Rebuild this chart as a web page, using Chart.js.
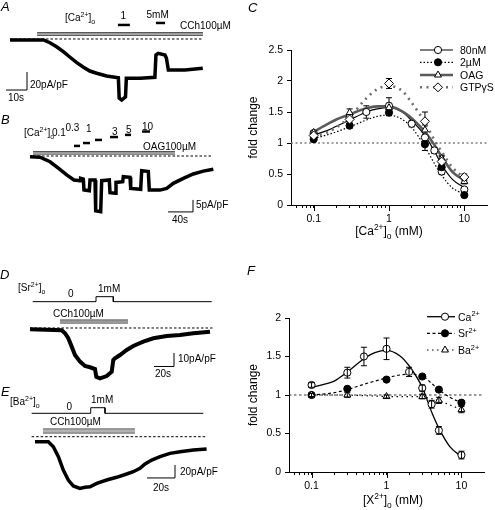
<!DOCTYPE html>
<html>
<head>
<meta charset="utf-8">
<script src="https://cdn.jsdelivr.net/npm/chart.js@4.4.0/dist/chart.umd.min.js"></script>
<style>
body { margin: 0; width: 495px; height: 510px; position: relative; background: #fff; overflow: hidden;
       font-family: "Liberation Sans", Arial, sans-serif; }
canvas { position: absolute; }
.t { position: absolute; font-size: 10px; line-height: 1; white-space: nowrap; color: #000; }
.p { position: absolute; font-size: 13px; line-height: 1; font-style: italic; color: #000; }
sup { font-size: 7px; vertical-align: 4px; line-height: 0; }
sub { font-size: 7px; vertical-align: -3px; line-height: 0; }
</style>
</head>
<body>
<canvas id="cA" width="250" height="110" style="left:0;top:0"></canvas>
<canvas id="cB" width="250" height="125" style="left:0;top:110px"></canvas>
<canvas id="cD" width="250" height="120" style="left:0;top:270px"></canvas>
<canvas id="cE" width="250" height="120" style="left:0;top:390px"></canvas>
<canvas id="cC" width="249" height="215" style="left:246px;top:30px"></canvas>
<canvas id="cF" width="249" height="210" style="left:246px;top:300px"></canvas>

<!-- A -->
<span class="p" style="left:1px;top:0">A</span>
<span class="t" style="left:65px;top:13px">[Ca<sup>2+</sup>]<sub>o</sub></span>
<span class="t" style="left:120.5px;top:11px">1</span>
<span class="t" style="left:146.5px;top:10px">5mM</span>
<span class="t" style="left:180px;top:21px">CCh100µM</span>
<span class="t" style="left:30px;top:80px">20pA/pF</span>
<span class="t" style="left:8px;top:93px">10s</span>
<!-- B -->
<span class="p" style="left:1px;top:113px">B</span>
<span class="t" style="left:24px;top:128px">[Ca<sup>2+</sup>]<sub>o</sub></span>
<span class="t" style="left:52px;top:128px">0.1</span>
<span class="t" style="left:65.5px;top:123px">0.3</span>
<span class="t" style="left:86px;top:123.5px">1</span>
<span class="t" style="left:112px;top:126.5px">3</span>
<span class="t" style="left:126px;top:125px">5</span>
<span class="t" style="left:142px;top:121.5px">10</span>
<span class="t" style="left:143px;top:142px">OAG100µM</span>
<span class="t" style="left:196px;top:200px">5pA/pF</span>
<span class="t" style="left:172px;top:215px">40s</span>
<!-- D -->
<span class="p" style="left:0;top:268px">D</span>
<span class="t" style="left:18px;top:283px">[Sr<sup>2+</sup>]<sub>o</sub></span>
<span class="t" style="left:68px;top:289px">0</span>
<span class="t" style="left:98px;top:283.5px">1mM</span>
<span class="t" style="left:53px;top:308.5px">CCh100µM</span>
<span class="t" style="left:178px;top:353.5px">10pA/pF</span>
<span class="t" style="left:155px;top:368.5px">20s</span>
<!-- E -->
<span class="p" style="left:1px;top:384.5px">E</span>
<span class="t" style="left:10px;top:397px">[Ba<sup>2+</sup>]<sub>o</sub></span>
<span class="t" style="left:66.5px;top:402px">0</span>
<span class="t" style="left:91px;top:395px">1mM</span>
<span class="t" style="left:50px;top:417px">CCh100µM</span>
<span class="t" style="left:180px;top:467px">20pA/pF</span>
<span class="t" style="left:153px;top:482.5px">20s</span>
<!-- C / F letters -->
<span class="p" style="left:248px;top:1px">C</span>
<span class="p" style="left:247px;top:264px">F</span>

<script>
// ---- C: fold change vs [Ca2+]o ----
const conc80 = [0.1, 0.3, 0.5, 1, 2, 3, 4, 5, 10];
const fold80 = [1.16, 1.41, 1.5, 1.6, 1.31, 1.09, 0.88, 0.54, 0.25];
const err80 = [0.03, 0.05, 0.1, 0.13, 0.05, 0.05, 0.05, 0.05, 0.03];
const conc2u = [0.1, 0.3, 1, 3, 5, 10];
const fold2u = [1.06, 1.28, 1.49, 0.98, 0.61, 0.16];
const err2u = [0.03, 0.04, 0.05, 0.1, 0.04, 0.03];
const concOAG = [0.1, 0.3, 1, 3, 5, 10];
const foldOAG = [1.17, 1.49, 1.57, 1.21, 0.75, 0.38];
const errOAG = [0.03, 0.06, 0.07, 0.08, 0.05, 0.04];
const concGTP = [0.1, 0.3, 1, 3, 5, 10];
const foldGTP = [1.12, 1.38, 1.96, 1.35, 0.7, 0.45];
const errGTP = [0.03, 0.06, 0.08, 0.15, 0.08, 0.05];
// fitted curves
const fitConc = [0.1, 0.15, 0.2, 0.3, 0.5, 0.7, 1, 1.5, 2, 3, 4, 5, 7, 10];
const fit80 = [1.13, 1.2, 1.27, 1.37, 1.5, 1.55, 1.57, 1.5, 1.36, 1.12, 0.87, 0.65, 0.41, 0.28];
const fit2u = [1.07, 1.13, 1.18, 1.26, 1.37, 1.43, 1.45, 1.38, 1.25, 0.94, 0.67, 0.48, 0.27, 0.18];
const fitOAG = [1.18, 1.3, 1.38, 1.46, 1.56, 1.59, 1.59, 1.51, 1.4, 1.18, 0.97, 0.78, 0.53, 0.4];
const fitGTP = [1.1, 1.17, 1.25, 1.42, 1.72, 1.87, 1.92, 1.84, 1.65, 1.33, 1.05, 0.86, 0.6, 0.44];

// ---- F: fold change vs [X2+]o ----
const concCa = [0.1, 0.3, 0.5, 1, 2, 3, 4, 5, 10];
const foldCa = [1.13, 1.29, 1.5, 1.6, 1.3, 1.09, 0.88, 0.54, 0.22];
const errCa = [0.03, 0.07, 0.12, 0.14, 0.06, 0.04, 0.05, 0.05, 0.05];
const concSr = [0.1, 0.3, 1, 3, 5, 10];
const foldSr = [1.0, 1.08, 1.2, 1.24, 1.07, 0.9];
const errSr = [0.02, 0.02, 0.02, 0.02, 0.02, 0.03];
const concBa = [0.1, 0.3, 1, 3, 5, 10];
const foldBa = [1.0, 1.0, 0.98, 0.98, 0.93, 0.81];
const errBa = [0.02, 0.03, 0.02, 0.03, 0.04, 0.04];
const fitCa = [1.1, 1.14, 1.18, 1.3, 1.47, 1.55, 1.58, 1.51, 1.38, 1.1, 0.78, 0.57, 0.33, 0.2];
const lineConcSr = [0.1, 0.2, 0.3, 0.5, 1, 1.5, 2, 3, 4, 5, 7, 10];
const lineSr = [1.0, 1.03, 1.07, 1.14, 1.22, 1.26, 1.27, 1.25, 1.15, 1.07, 0.97, 0.9];

const xTicks = [0.06, 0.07, 0.08, 0.09, 0.1, 0.2, 0.3, 0.4, 0.5, 0.6, 0.7, 0.8, 0.9,
                1, 2, 3, 4, 5, 6, 7, 8, 9, 10];
const xLabels = [0.1, 1, 10];

// ---- current traces: time (s), current (pA/pF) ----
const tA = [0, 16, 19, 22.2, 25.4, 28.6, 31.8, 35, 38, 41.3, 46, 51.6, 52, 53.2, 55, 55.4, 62, 69, 69.5, 70.6, 73.8, 74.5, 75.4, 83.3, 91.8];
const iA = [-1.1, -1.1, -4.1, -8.6, -14.1, -20.3, -26.3, -31.4, -35.6, -38.1, -41.1, -43, -65.6, -67.8, -64.4, -43.7, -43.7, -42.6, -17.8, -15.9, -17.8, -21.4, -34.4, -34.4, -32.6];
const caA = [[51.4, 57.1], [69.5, 73.8]];
const cchA = [12.9, 91.9];

const tB = [0, 16, 32, 45.3, 58.7, 70.4, 80, 81.1, 85.3, 86.4, 94.9, 96, 104, 105.1, 113.1, 114.7, 126.9, 128, 136.5, 137.6, 148.3, 149.3, 160, 161.1, 177.1, 178.7, 189.3, 190.9, 208, 218.7, 229.3, 245.3, 261.3, 277.3, 293.3];
const iB = [-0.3, -0.5, -2.4, -5.1, -7.9, -10, -10.3, -9.3, -9.6, -14.2, -14.5, -10, -10, -22.8, -23.2, -10.3, -10, -15.3, -15.5, -11, -10.7, -8.6, -8.9, -13.5, -13.9, -6.1, -6.5, -14.2, -14.2, -13.5, -11.4, -9.3, -7.5, -6.3, -5.5];
const caB = [[70.4, 80], [84.8, 96], [104, 115.2], [128, 140.8], [152, 161.6], [179.2, 192]];
const oagB = [4.8, 232];

const tD = [0, 31.7, 35, 38.3, 41.7, 45, 50, 55, 60, 65, 66.3, 70, 76.7, 81.7, 83.3, 85, 90, 96.7, 103.3, 113.3, 123.3, 136.7, 150, 163.3, 180];
const iD = [-1, -1.7, -3.9, -7.6, -13.8, -20, -24.9, -28.1, -29.1, -30.4, -36.1, -37.3, -35.6, -32.4, -23.7, -22.5, -20, -16.3, -13.3, -10.1, -7.6, -5.9, -5.2, -3.9, -2.7];
const srD = [66, 83.3];
const cchD = [30, 98];

const tE = [0, 9.5, 13.1, 16.7, 20.2, 23.8, 27.4, 32.1, 35.7, 39.3, 44.1, 51.2, 58.3, 65.5, 70.2, 75, 78.6, 83.4, 89.3, 96.4, 103.6, 113.1, 122.6];
const iE = [-7.7, -7.7, -15.4, -30.8, -51.3, -66.7, -75.9, -79.5, -77.9, -77, -71.8, -66.7, -62.5, -57.4, -53.9, -48.7, -42, -35.9, -30.8, -25.6, -23.1, -20.5, -19];
const baE = [39.8, 50];
const cchE = [5.7, 71.4];

const fam = '"Liberation Sans", Arial, sans-serif';

function pts(xs, ys) { return xs.map((x, i) => ({ x: x, y: ys[i] })); }

function line(xs, ys, color, width, dash) {
    return { data: pts(xs, ys), showLine: true, borderColor: color, borderWidth: width,
             borderDash: dash || [], pointRadius: 0, clip: false, tension: 0 };
}
function hbar(t, y, color, width) { return line(t, [y, y], color, width); }
function drugBar(t, y1, y2) {
    return [hbar(t, y1, '#333', 1), hbar(t, (y1 + y2) / 2, '#999', 1.3), hbar(t, y2, '#333', 1)];
}
function stepLine(t0, t1, on, base, up) {
    return line([t0, on[0], on[0], on[1], on[1], t1], [base, base, up, up, base, base], '#000', 1);
}
function scaleBar(t, i, dt, di) {
    return line([t - dt, t, t], [i, i, i + di], '#000', 1);
}

function traceChart(id, xr, yr, datasets) {
    return new Chart(document.getElementById(id), {
        type: 'scatter',
        data: { datasets: datasets },
        options: {
            responsive: false, animation: false, events: [],
            layout: { padding: 0 },
            plugins: { legend: { display: false }, tooltip: { enabled: false } },
            scales: {
                x: { type: 'linear', display: false, min: xr[0], max: xr[1] },
                y: { type: 'linear', display: false, min: yr[0], max: yr[1] }
            }
        }
    });
}

// A
traceChart('cA', [-4.76, 114.29], [-78.89, 43.33], [
    line(tA, iA, '#000', 3.5),
    line([0, 91.9], [0, 0], '#000', 1, [2.5, 2]),
    ...caA.map((b, k) => hbar(b, [15.6, 17.8][k], '#000', 2.5)),
    ...drugBar(cchA, 7.0, 4.1),
    scaleBar(8.1, -56.7, 10, 20)
]);
// B
traceChart('cB', [-48, 352], [-32.92, 19.17], [
    line(tB, iB, '#000', 3.5),
    line([4.8, 292.8], [0, 0], '#000', 1, [2.5, 2]),
    ...caB.map((b, k) => hbar(b, [4.2, 5.4, 6.7, 7.9, 8.8, 10.2][k], '#000', 2.5)),
    ...drugBar(oagB, 1.8, 0.8),
    scaleBar(260.8, -23.3, 40, 5)
]);
// D
traceChart('cD', [-30, 220], [-45.93, 42.96], [
    line(tD, iD, '#000', 4),
    line([0, 183], [0, 0], '#000', 1, [2.5, 2]),
    stepLine(2.7, 181.7, srD, 19.5, 23.2),
    ...drugBar(cchD, 5.9, 3.7),
    scaleBar(144, -28.5, 20, 10)
]);
// E
traceChart('cE', [-25, 153.57], [-112.8, 71.85], [
    line(tE, iE, '#000', 3.5),
    line([-2.4, 122.9], [0, 0], '#000', 1, [2.5, 2]),
    stepLine(-2.4, 120.2, baE, 36, 44.6),
    ...drugBar(cchE, 11.8, 5.7),
    scaleBar(100, -63.5, 20, 20)
]);

// ---- dose-response panels ----
function markers(xs, ys, errs, style, fill, r) {
    return { data: pts(xs, ys), errors: errs, showLine: false, pointStyle: style, pointRadius: r,
             pointBackgroundColor: fill, pointBorderColor: '#000', pointBorderWidth: 1, order: 1 };
}
function curve(xs, ys, color, width, dash, smooth) {
    const d = line(xs, ys, color, width, dash);
    if (smooth) d.cubicInterpolationMode = 'monotone';
    d.order = 5;
    return d;
}

function richText(ctx, parts, x, y, size, center) {
    const f = p => (p[1] ? size * 0.7 : size) + 'px ' + fam;
    let w = 0;
    parts.forEach(p => { ctx.font = f(p); w += ctx.measureText(p[0]).width; });
    let cx = center ? x - w / 2 : x;
    ctx.fillStyle = '#000';
    ctx.textAlign = 'left';
    ctx.textBaseline = 'alphabetic';
    parts.forEach(p => {
        ctx.font = f(p);
        const dy = p[1] === 1 ? -size * 0.42 : p[1] === -1 ? size * 0.3 : 0;
        ctx.fillText(p[0], cx, y + dy);
        cx += ctx.measureText(p[0]).width;
    });
}

function errBars(onTop) {
    const draw = chart => {
        const ctx = chart.ctx, x = chart.scales.x, y = chart.scales.y;
        ctx.save();
        ctx.strokeStyle = '#000';
        ctx.lineWidth = 1;
        chart.data.datasets.forEach(ds => {
            if (!ds.errors) return;
            ds.data.forEach((p, i) => {
                const e = ds.errors[i];
                const px = x.getPixelForValue(p.x);
                const yt = y.getPixelForValue(p.y + e), yb = y.getPixelForValue(p.y - e);
                ctx.beginPath();
                ctx.moveTo(px, yt); ctx.lineTo(px, yb);
                ctx.moveTo(px - 3, yt); ctx.lineTo(px + 3, yt);
                ctx.moveTo(px - 3, yb); ctx.lineTo(px + 3, yb);
                ctx.stroke();
            });
        });
        ctx.restore();
    };
    return onTop ? { id: 'errbars', afterDatasetsDraw: draw } : { id: 'errbars', beforeDatasetsDraw: draw };
}

function deco(cfg) {
    return {
        id: 'deco',
        afterDraw(chart) {
            const ctx = chart.ctx, xs = chart.scales.x, b = chart.chartArea.bottom;
            ctx.save();
            ctx.strokeStyle = '#000';
            ctx.lineWidth = 1;
            xLabels.forEach(v => {
                const px = Math.round(xs.getPixelForValue(v)) + 0.5;
                ctx.beginPath(); ctx.moveTo(px, b); ctx.lineTo(px, b + 6); ctx.stroke();
            });
            cfg.legend.forEach((it, k) => {
                const y = cfg.legY[k];
                ctx.save();
                ctx.strokeStyle = it.line.borderColor;
                ctx.lineWidth = it.line.borderWidth;
                ctx.setLineDash(it.line.borderDash);
                ctx.beginPath(); ctx.moveTo(cfg.legX[0], y); ctx.lineTo(cfg.legX[1], y); ctx.stroke();
                ctx.setLineDash([]);
                ctx.fillStyle = it.pts.pointBackgroundColor;
                ctx.strokeStyle = '#000';
                ctx.lineWidth = 1;
                Chart.helpers.drawPoint(ctx, { pointStyle: it.pts.pointStyle, radius: it.pts.pointRadius,
                                               rotation: 0, borderWidth: 1 }, cfg.legX[2], y);
                ctx.restore();
                richText(ctx, it.label, cfg.legX[3], y + 4, 10.5, false);
            });
            richText(ctx, cfg.xTitle, cfg.titlePos[0], cfg.titlePos[1], 12, true);
            ctx.restore();
        }
    };
}

function doseChart(id, datasets, cfg) {
    return new Chart(document.getElementById(id), {
        type: 'scatter',
        data: { datasets: datasets },
        options: {
            responsive: false, animation: false, events: [],
            layout: { padding: cfg.pad },
            plugins: { legend: { display: false }, tooltip: { enabled: false } },
            scales: {
                x: {
                    type: 'logarithmic', min: 0.05, max: 20,
                    afterBuildTicks: s => { s.ticks = xTicks.map(v => ({ value: v })); },
                    afterFit: s => { s.height = cfg.xHeight; },
                    ticks: { autoSkip: false, maxRotation: 0, padding: 5, color: '#000',
                             font: { family: fam, size: 10.5 },
                             callback: v => xLabels.includes(v) ? String(v) : '' },
                    grid: { drawOnChartArea: false, tickLength: 3, color: '#000' },
                    border: { color: '#000' }
                },
                y: {
                    min: 0, max: cfg.yMax,
                    afterFit: s => { s.width = cfg.yWidth; },
                    ticks: { stepSize: 0.5, padding: 4, color: '#000', font: { family: fam, size: 10.5 },
                             callback: v => String(Math.round(v * 10) / 10) },
                    grid: { drawOnChartArea: false, tickLength: 4, color: '#000' },
                    border: { color: '#000' },
                    title: { display: true, text: 'fold change', color: '#000', padding: 0,
                             font: { family: fam, size: 12 } }
                }
            }
        },
        plugins: [errBars(cfg.errTop), deco(cfg)]
    });
}

// C
const m80 = markers(conc80, fold80, err80, 'circle', '#fff', 3.6);
const m2u = markers(conc2u, fold2u, err2u, 'circle', '#000', 3.6);
const mOAG = markers(concOAG, foldOAG, errOAG, 'triangle', '#fff', 4);
const mGTP = markers(concGTP, foldGTP, errGTP, 'rectRot', '#fff', 4.5);
const c80 = curve(fitConc, fit80, '#000', 1.2, [], true);
const c2u = curve(fitConc, fit2u, '#000', 1.2, [1.5, 2], true);
const cOAG = curve(fitConc, fitOAG, '#5a5a5a', 2.6, [], true);
const cGTP = curve(fitConc, fitGTP, '#6e6e6e', 2.6, [2, 4.5], true);
const refC = curve([0.05, 20], [1, 1], '#808080', 1.5, [2, 2.5], false);
refC.order = 9;
doseChart('cC', [refC, cGTP, c2u, cOAG, c80, mGTP, mOAG, m2u, m80], {
    pad: { left: 0, top: 20, right: 8, bottom: 0 }, xHeight: 40, yWidth: 45, yMax: 2.5, errTop: false,
    legend: [
        { line: c80, pts: m80, label: [['80nM', 0]] },
        { line: c2u, pts: m2u, label: [['2µM', 0]] },
        { line: cOAG, pts: mOAG, label: [['OAG', 0]] },
        { line: cGTP, pts: mGTP, label: [['GTPγS', 0]] }
    ],
    legY: [20, 32.3, 45, 57.3], legX: [174, 207, 192, 214],
    xTitle: [['[Ca', 0], ['2+', 1], [']', 0], ['o', -1], [' (mM)', 0]], titlePos: [143, 205]
});

// F
const mCa = markers(concCa, foldCa, errCa, 'circle', '#fff', 3.6);
const mSr = markers(concSr, foldSr, errSr, 'circle', '#000', 3.6);
const mBa = markers(concBa, foldBa, errBa, 'triangle', '#fff', 4);
const cCa = curve(fitConc, fitCa, '#000', 1.3, [], true);
const cSr = curve(lineConcSr, lineSr, '#000', 1.2, [3, 2.5], true);
const cBa = curve(concBa, foldBa, '#000', 1.2, [1.5, 3.5], false);
const refF = curve([0.05, 20], [1, 1], '#333', 1, [2.5, 2.5], false);
refF.order = 9;
doseChart('cF', [refF, cBa, cSr, cCa, mBa, mSr, mCa], {
    pad: { left: 0, top: 18, right: 11, bottom: 0 }, xHeight: 38, yWidth: 43, yMax: 2, errTop: true,
    legend: [
        { line: cCa, pts: mCa, label: [['Ca', 0], ['2+', 1]] },
        { line: cSr, pts: mSr, label: [['Sr', 0], ['2+', 1]] },
        { line: cBa, pts: mBa, label: [['Ba', 0], ['2+', 1]] }
    ],
    legY: [16.7, 33.3, 50], legX: [181, 209, 199, 212],
    xTitle: [['[X', 0], ['2+', 1], [']', 0], ['o', -1], [' (mM)', 0]], titlePos: [147, 204]
});
</script>
</body>
</html>
